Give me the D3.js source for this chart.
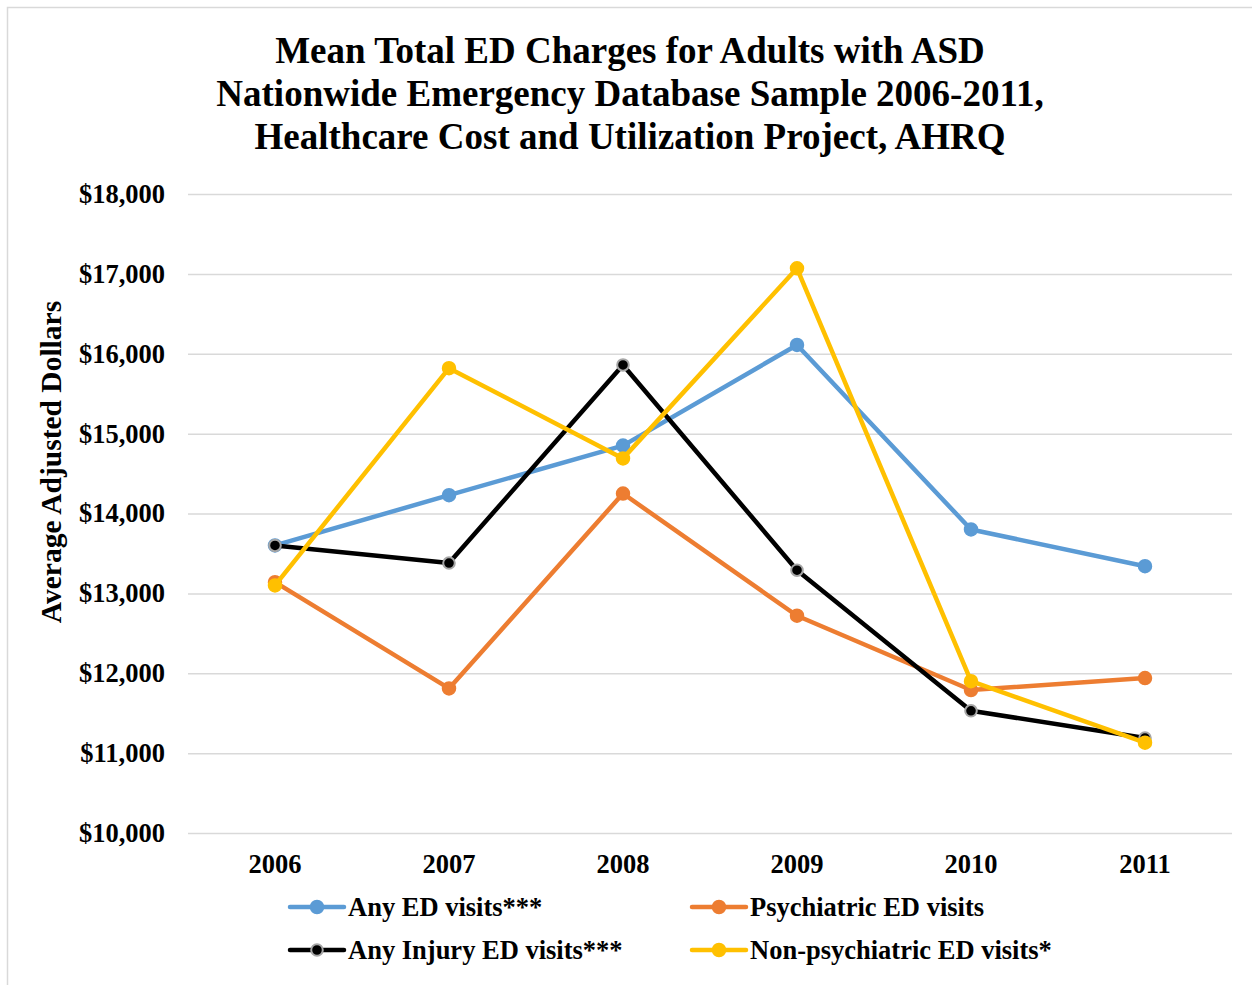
<!DOCTYPE html>
<html>
<head>
<meta charset="utf-8">
<script src="https://cdn.jsdelivr.net/npm/d3@7/dist/d3.min.js"></script>
<style>
  html, body { margin: 0; padding: 0; background: #fff; }
  svg { display: block; }
  text { font-family: "Liberation Serif", "Times New Roman", serif; font-weight: bold; fill: #000; }
</style>
</head>
<body>
<svg id="chart" width="1252" height="985"></svg>
<script>
// Survey years on the horizontal axis
const years = ["2006", "2007", "2008", "2009", "2010", "2011"];

// Mean total ED charges (adjusted dollars) by visit type
const anyED = [13600, 14230, 14850, 16110, 13800, 13340];
const psychiatricED = [13140, 11810, 14250, 12720, 11790, 11940];
const anyInjuryED = [13600, 13380, 15860, 13290, 11530, 11190];
const nonPsychiatricED = [13100, 15820, 14690, 17070, 11900, 11130];

const seriesNames = ["Any ED visits***", "Psychiatric ED visits", "Any Injury ED visits***", "Non-psychiatric ED visits*"];
const yTicks = [10000, 11000, 12000, 13000, 14000, 15000, 16000, 17000, 18000];

const titleLines = [
  "Mean Total ED Charges for Adults with ASD",
  "Nationwide Emergency Database Sample 2006-2011,",
  "Healthcare Cost and Utilization Project, AHRQ"
];

const series = [
  { name: seriesNames[0], values: anyED, color: "#5B9BD5", markerStroke: "#5B9BD5", r: 6.5, sw: 1.5 },
  { name: seriesNames[1], values: psychiatricED, color: "#ED7D31", markerStroke: "#ED7D31", r: 6.5, sw: 1.5 },
  { name: seriesNames[2], values: anyInjuryED, color: "#000000", markerStroke: "#a6a6a6", r: 5.8, sw: 2 },
  { name: seriesNames[3], values: nonPsychiatricED, color: "#FFC000", markerStroke: "#FFC000", r: 6.5, sw: 1.5 }
];

const svg = d3.select("#chart");

// Chart frame
svg.append("rect")
  .attr("x", 7.5).attr("y", 7.5)
  .attr("width", 1260).attr("height", 1000)
  .attr("fill", "#fff")
  .attr("stroke", "#d9d9d9").attr("stroke-width", 1.5);

const plot = { left: 188, right: 1232, top: 194, bottom: 833 };

const x = d3.scaleBand().domain(years).range([plot.left, plot.right]).padding(0);
const y = d3.scaleLinear().domain([10000, 18000]).range([plot.bottom, plot.top]);
const cx = d => x(d) + x.bandwidth() / 2;

// Title
svg.append("text")
  .attr("x", 630).attr("y", 63)
  .attr("text-anchor", "middle")
  .style("font-size", "37px")
  .selectAll("tspan")
  .data(titleLines)
  .join("tspan")
  .attr("x", 630)
  .attr("dy", (d, i) => i === 0 ? 0 : 43)
  .text(d => d);

// Horizontal gridlines + y tick labels
const yAxis = d3.axisLeft(y)
  .tickValues(yTicks)
  .tickSize(-(plot.right - plot.left))
  .tickPadding(23)
  .tickFormat(d => "$" + d3.format(",")(d));

const gy = svg.append("g")
  .attr("transform", `translate(${plot.left},0)`)
  .call(yAxis);
gy.select(".domain").remove();
gy.selectAll(".tick line").attr("stroke", "#d9d9d9").attr("stroke-width", 1.5);
gy.selectAll(".tick text")
  .style("font-family", "Liberation Serif, Times New Roman, serif")
  .style("font-weight", "bold")
  .style("font-size", "26.5px")
  .attr("fill", "#000");

// X axis labels
const xAxis = d3.axisBottom(x).tickSize(0).tickPadding(21);
const gx = svg.append("g")
  .attr("transform", `translate(0,${plot.bottom})`)
  .call(xAxis);
gx.select(".domain").remove();
gx.selectAll(".tick text")
  .style("font-family", "Liberation Serif, Times New Roman, serif")
  .style("font-weight", "bold")
  .style("font-size", "26.5px")
  .attr("fill", "#000");

// Y axis title
svg.append("text")
  .attr("transform", "translate(61,462) rotate(-90)")
  .attr("text-anchor", "middle")
  .style("font-size", "29.5px")
  .text("Average Adjusted Dollars");

// Lines and markers
const line = d3.line()
  .x((d, i) => cx(years[i]))
  .y(d => y(d));

series.forEach(s => {
  const g = svg.append("g");
  g.append("path")
    .datum(s.values)
    .attr("d", line)
    .attr("fill", "none")
    .attr("stroke", s.color)
    .attr("stroke-width", 4.5)
    .attr("stroke-linejoin", "round")
    .attr("stroke-linecap", "round");
  g.selectAll("circle")
    .data(s.values)
    .join("circle")
    .attr("cx", (d, i) => cx(years[i]))
    .attr("cy", d => y(d))
    .attr("r", s.r)
    .attr("fill", s.color)
    .attr("stroke", s.markerStroke)
    .attr("stroke-width", s.sw);
});

// Legend
const legendPos = [
  { x: 290, y: 907 },
  { x: 692, y: 907 },
  { x: 290, y: 950 },
  { x: 692, y: 950 }
];
series.forEach((s, i) => {
  const p = legendPos[i];
  const g = svg.append("g").attr("transform", `translate(${p.x},${p.y})`);
  g.append("line")
    .attr("x1", 0).attr("x2", 54).attr("y1", 0).attr("y2", 0)
    .attr("stroke", s.color).attr("stroke-width", 4.5)
    .attr("stroke-linecap", "round");
  g.append("circle")
    .attr("cx", 27).attr("cy", 0).attr("r", s.r)
    .attr("fill", s.color).attr("stroke", s.markerStroke).attr("stroke-width", s.sw);
  g.append("text")
    .attr("x", 58).attr("y", 9)
    .style("font-size", "26.5px")
    .text(s.name);
});
</script>
</body>
</html>
